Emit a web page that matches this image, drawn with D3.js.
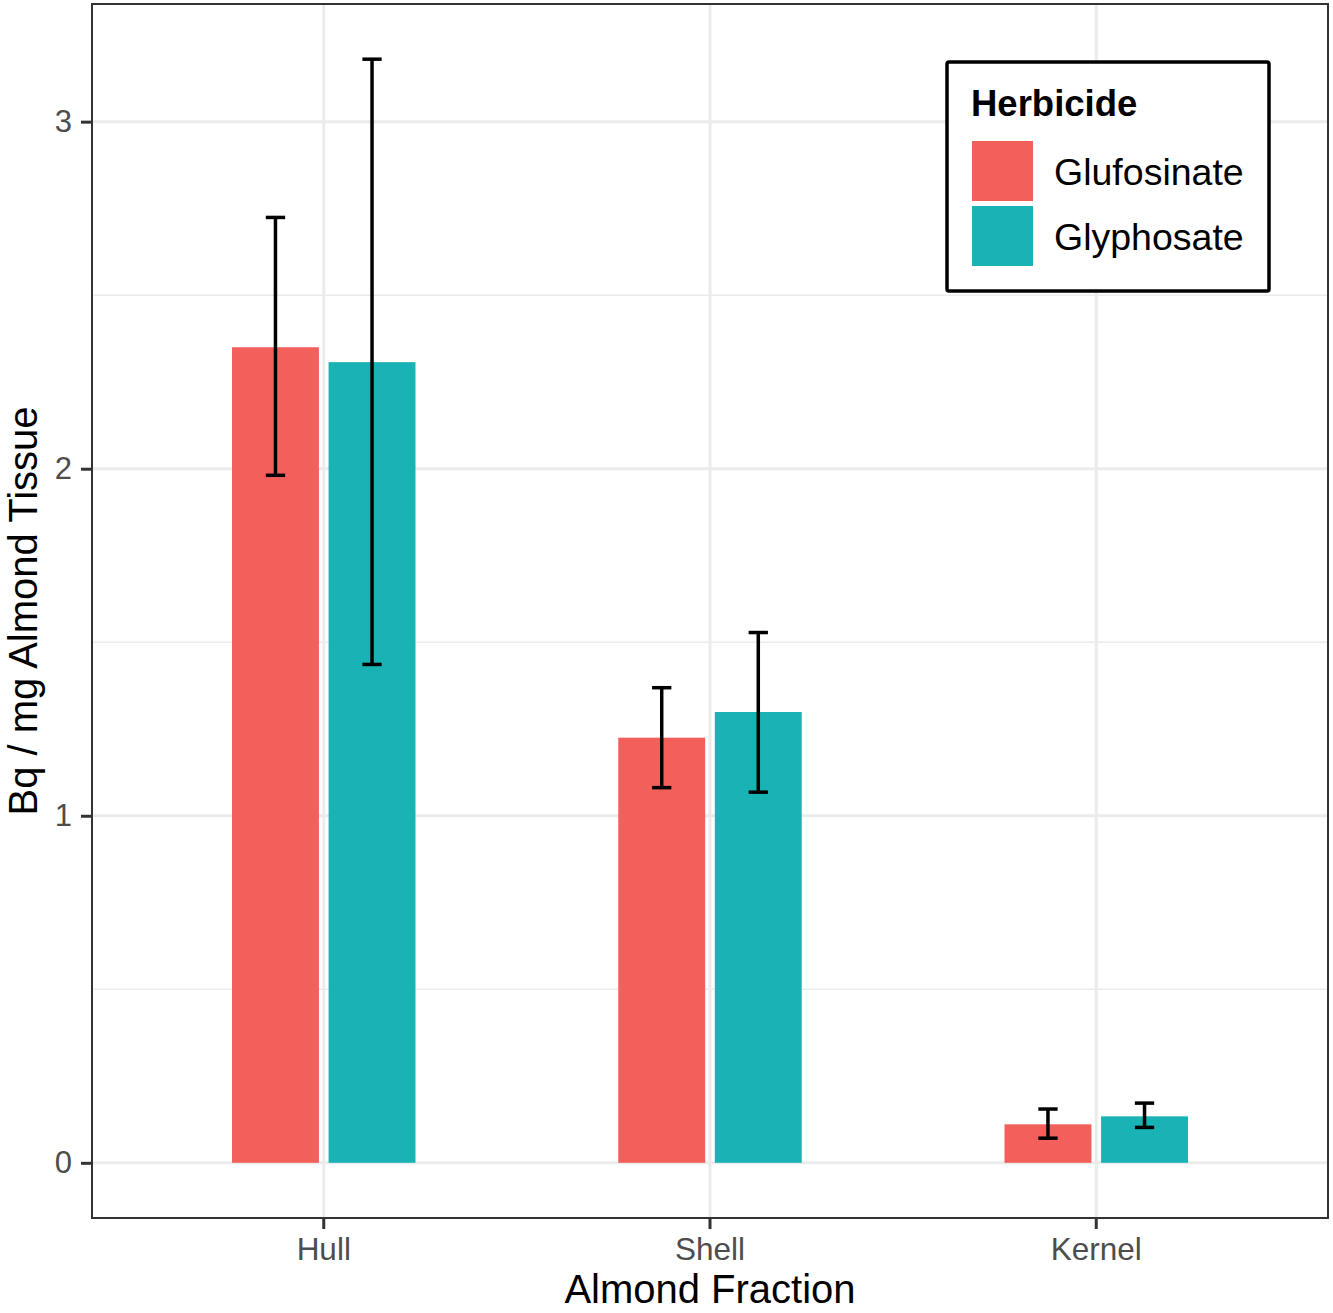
<!DOCTYPE html>
<html>
<head>
<meta charset="utf-8">
<script src="https://cdn.jsdelivr.net/npm/d3@7/dist/d3.min.js"></script>
<style>
  html, body { margin: 0; padding: 0; background: #fff; }
  svg { display: block; font-family: "Liberation Sans", Arial, Helvetica, sans-serif; }
</style>
</head>
<body>
<svg id="chart" width="1333" height="1313"></svg>
<script>
// ---- data ----
const fractions = ["Hull", "Shell", "Kernel"];
const herbicides = ["Glufosinate", "Glyphosate"];
const glufosinateMean  = [2.350, 1.225, 0.111];
const glufosinateLower = [1.981, 1.081, 0.071];
const glufosinateUpper = [2.724, 1.369, 0.155];
const glyphosateMean   = [2.307, 1.299, 0.134];
const glyphosateLower  = [1.436, 1.068, 0.102];
const glyphosateUpper  = [3.180, 1.528, 0.172];
const yTicks = [0, 1, 2, 3];
const yMinorTicks = [0.5, 1.5, 2.5];

const colors = { Glufosinate: "#F35F5A", Glyphosate: "#19B3B6" };

const rows = [];
fractions.forEach((f, i) => {
  rows.push({ fraction: f, herbicide: "Glufosinate", mean: glufosinateMean[i], lo: glufosinateLower[i], hi: glufosinateUpper[i] });
  rows.push({ fraction: f, herbicide: "Glyphosate", mean: glyphosateMean[i], lo: glyphosateLower[i], hi: glyphosateUpper[i] });
});

// ---- layout ----
const svg = d3.select("#chart");
const P = { left: 92, right: 1328, top: 4, bottom: 1218 };

const x = d3.scaleBand().domain(fractions).range([P.left, P.right]).paddingInner(0).paddingOuter(0.1);
const step = x.step();
const xSub = d3.scaleBand().domain(herbicides).range([-0.25 * step, 0.25 * step]).paddingInner(0.1).paddingOuter(0.05);

const ymax = d3.max(rows, d => d.hi);
const pad = 0.05 * ymax;
const y = d3.scaleLinear().domain([-pad, ymax + pad]).range([P.bottom, P.top]);

// panel background
svg.append("rect").attr("x", P.left).attr("y", P.top)
  .attr("width", P.right - P.left).attr("height", P.bottom - P.top).attr("fill", "#fff");

const grid = svg.append("g");
grid.selectAll("line.ymin").data(yMinorTicks).join("line")
  .attr("x1", P.left).attr("x2", P.right)
  .attr("y1", d => y(d)).attr("y2", d => y(d))
  .attr("stroke", "#ebebeb").attr("stroke-width", 1.5);
grid.selectAll("line.ymaj").data(yTicks).join("line")
  .attr("x1", P.left).attr("x2", P.right)
  .attr("y1", d => y(d)).attr("y2", d => y(d))
  .attr("stroke", "#ebebeb").attr("stroke-width", 3);
grid.selectAll("line.xmaj").data(fractions).join("line")
  .attr("x1", d => x(d) + x.bandwidth() / 2).attr("x2", d => x(d) + x.bandwidth() / 2)
  .attr("y1", P.top).attr("y2", P.bottom)
  .attr("stroke", "#ebebeb").attr("stroke-width", 3);

// bars
svg.append("g").selectAll("rect").data(rows).join("rect")
  .attr("x", d => x(d.fraction) + x.bandwidth() / 2 + xSub(d.herbicide))
  .attr("width", xSub.bandwidth())
  .attr("y", d => y(d.mean))
  .attr("height", d => y(0) - y(d.mean))
  .attr("fill", d => colors[d.herbicide]);

// error bars
const capHalf = 0.025 * step;
const eb = svg.append("g").attr("stroke", "#000").attr("stroke-width", 3.5).attr("fill", "none");
rows.forEach(d => {
  const cx = x(d.fraction) + x.bandwidth() / 2 + xSub(d.herbicide) + xSub.bandwidth() / 2;
  eb.append("line").attr("x1", cx).attr("x2", cx).attr("y1", y(d.hi)).attr("y2", y(d.lo));
  eb.append("line").attr("x1", cx - capHalf).attr("x2", cx + capHalf).attr("y1", y(d.hi)).attr("y2", y(d.hi));
  eb.append("line").attr("x1", cx - capHalf).attr("x2", cx + capHalf).attr("y1", y(d.lo)).attr("y2", y(d.lo));
});

// panel border
svg.append("rect").attr("x", P.left).attr("y", P.top)
  .attr("width", P.right - P.left).attr("height", P.bottom - P.top)
  .attr("fill", "none").attr("stroke", "#333333").attr("stroke-width", 2);

// y axis
const yAxis = svg.append("g").attr("transform", `translate(${P.left},0)`)
  .call(d3.axisLeft(y).tickValues(yTicks).tickFormat(d3.format("d")).tickSize(11).tickPadding(9));
yAxis.select(".domain").remove();
yAxis.selectAll(".tick line").attr("stroke", "#333333").attr("stroke-width", 3);
yAxis.selectAll(".tick text").attr("fill", "#4d4d4d").attr("font-size", 31)
  .attr("font-family", "Liberation Sans, Arial, sans-serif");

// x axis
const xAxis = svg.append("g").attr("transform", `translate(0,${P.bottom})`)
  .call(d3.axisBottom(x).tickSize(11).tickPadding(9));
xAxis.select(".domain").remove();
xAxis.selectAll(".tick line").attr("stroke", "#333333").attr("stroke-width", 3);
xAxis.selectAll(".tick text").attr("fill", "#4d4d4d").attr("font-size", 31.5)
  .attr("font-family", "Liberation Sans, Arial, sans-serif");

// axis titles
svg.append("text").attr("x", (P.left + P.right) / 2).attr("y", 1303)
  .attr("text-anchor", "middle").attr("font-size", 40).attr("fill", "#000")
  .text("Almond Fraction");
svg.append("text").attr("transform", `translate(37,${(P.top + P.bottom) / 2}) rotate(-90)`)
  .attr("text-anchor", "middle").attr("font-size", 40).attr("fill", "#000")
  .text("Bq / mg Almond Tissue");

// legend
const lg = svg.append("g");
lg.append("rect").attr("x", 947).attr("y", 62).attr("width", 322).attr("height", 229)
  .attr("fill", "#fff").attr("stroke", "#000").attr("stroke-width", 3.5).attr("rx", 2);
lg.append("text").attr("x", 971).attr("y", 116).attr("font-size", 36.5).attr("font-weight", "bold")
  .attr("fill", "#000").text("Herbicide");
herbicides.forEach((h, i) => {
  lg.append("rect").attr("x", 972).attr("y", 141 + i * 65).attr("width", 61).attr("height", 60)
    .attr("fill", colors[h]);
  lg.append("text").attr("x", 1054).attr("y", 185 + i * 65).attr("font-size", 37.5)
    .attr("fill", "#000").text(h);
});
</script>
</body>
</html>
